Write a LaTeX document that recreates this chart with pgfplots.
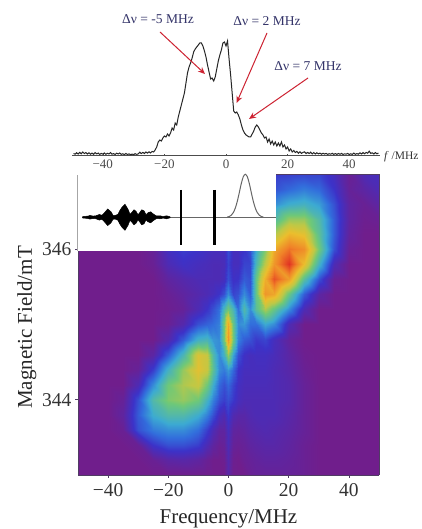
\documentclass[border=0pt]{standalone}
\usepackage{pgfplots}
\usepackage{fontspec}
\usetikzlibrary{arrows.meta}
\setmainfont{Liberation Serif}
\pgfplotsset{compat=1.18}
\definecolor{navytxt}{RGB}{52,52,105}
\definecolor{arrowred}{RGB}{205,35,50}
\definecolor{frameline}{RGB}{80,60,100}
\begin{document}
\begin{tikzpicture}
\useasboundingbox (0pt,0pt) rectangle (422pt,529pt);
\fill[white] (0pt,0pt) rectangle (422pt,529pt);
% heat map
\begin{axis}[
  at={(78pt,54pt)},anchor=south west,scale only axis,width=301pt,height=301pt,
  view={0}{90},xmin=-50,xmax=50,ymin=343,ymax=347,
  xtick={-40,-20,0,20,40},xticklabels={−40,−20,0,20,40},
  ytick={344,346},yticklabels={344,346},
  tick label style={font=\fontsize{19.5}{20}\selectfont,text=black!80},
  xticklabel style={yshift=-2pt},
  axis line style={frameline,line width=0.6pt},
  tick style={frameline,line width=0.6pt},
  major tick length=3pt,tick align=outside,
  xtick pos=bottom,ytick pos=left,
  xlabel={Frequency/MHz},ylabel={Magnetic Field/mT},
  label style={font=\fontsize{21}{22}\selectfont,text=black!85},
  xlabel style={at={(axis description cs:0.5,0)},anchor=base,yshift=-48.5pt},
  ylabel style={at={(axis description cs:0,0.49)},anchor=base,rotate=0,yshift=46pt},
  colormap={hm}{
    rgb255(0pt)=(112,30,140); rgb255(15pt)=(60,50,200); rgb255(25pt)=(50,110,220);
    rgb255(35pt)=(60,170,210); rgb255(50pt)=(110,200,120); rgb255(60pt)=(190,200,70);
    rgb255(70pt)=(235,190,45); rgb255(85pt)=(240,130,40); rgb255(100pt)=(225,50,35)},
  point meta min=0,point meta max=1,
]
\addplot3[surf,shader=interp,mesh/cols=28,point meta=z] coordinates {
(-50,343.0,0)(-45,343.0,0)(-40,343.0,0)(-35,343.0,0)(-30,343.0,0)(-25,343.0,0)(-20,343.0,0)(-15,343.0,0)(-10,343.0,0)(-7,343.0,0)(-5,343.0,0)(-3,343.0,0)(-1.5,343.0,0)(0,343.0,.07)(1.5,343.0,0)(3,343.0,0)(5,343.0,0)(7,343.0,.02)(9,343.0,.03)(12,343.0,.03)(15,343.0,.03)(20,343.0,.03)(25,343.0,.02)(30,343.0,0)(35,343.0,0)(40,343.0,0)(45,343.0,0)(50,343.0,0)
(-50,343.2,0)(-45,343.2,0)(-40,343.2,0)(-35,343.2,0)(-30,343.2,0)(-25,343.2,.02)(-20,343.2,.06)(-15,343.2,.07)(-10,343.2,.05)(-7,343.2,.02)(-5,343.2,0)(-3,343.2,0)(-1.5,343.2,.01)(0,343.2,.08)(1.5,343.2,.01)(3,343.2,0)(5,343.2,.02)(7,343.2,.03)(9,343.2,.04)(12,343.2,.05)(15,343.2,.05)(20,343.2,.04)(25,343.2,.02)(30,343.2,0)(35,343.2,0)(40,343.2,0)(45,343.2,0)(50,343.2,0)
(-50,343.4,0)(-45,343.4,0)(-40,343.4,0)(-35,343.4,0)(-30,343.4,.02)(-25,343.4,.15)(-20,343.4,.2)(-15,343.4,.2)(-10,343.4,.17)(-7,343.4,.1)(-5,343.4,.05)(-3,343.4,.02)(-1.5,343.4,.03)(0,343.4,.1)(1.5,343.4,.03)(3,343.4,.02)(5,343.4,.03)(7,343.4,.05)(9,343.4,.06)(12,343.4,.07)(15,343.4,.07)(20,343.4,.05)(25,343.4,.02)(30,343.4,0)(35,343.4,0)(40,343.4,0)(45,343.4,0)(50,343.4,0)
(-50,343.6,0)(-45,343.6,0)(-40,343.6,0)(-35,343.6,.02)(-30,343.6,.2)(-25,343.6,.27)(-20,343.6,.3)(-15,343.6,.3)(-10,343.6,.25)(-7,343.6,.17)(-5,343.6,.1)(-3,343.6,.05)(-1.5,343.6,.05)(0,343.6,.12)(1.5,343.6,.05)(3,343.6,.04)(5,343.6,.05)(7,343.6,.07)(9,343.6,.08)(12,343.6,.09)(15,343.6,.08)(20,343.6,.06)(25,343.6,.03)(30,343.6,0)(35,343.6,0)(40,343.6,0)(45,343.6,0)(50,343.6,0)
(-50,343.8,0)(-45,343.8,0)(-40,343.8,0)(-35,343.8,.05)(-30,343.8,.22)(-25,343.8,.36)(-20,343.8,.42)(-15,343.8,.42)(-10,343.8,.36)(-7,343.8,.28)(-5,343.8,.2)(-3,343.8,.12)(-1.5,343.8,.09)(0,343.8,.16)(1.5,343.8,.09)(3,343.8,.07)(5,343.8,.07)(7,343.8,.09)(9,343.8,.1)(12,343.8,.1)(15,343.8,.1)(20,343.8,.07)(25,343.8,.03)(30,343.8,0)(35,343.8,0)(40,343.8,0)(45,343.8,0)(50,343.8,0)
(-50,344.0,0)(-45,344.0,0)(-40,344.0,0)(-35,344.0,.03)(-30,344.0,.2)(-25,344.0,.42)(-20,344.0,.52)(-15,344.0,.55)(-10,344.0,.5)(-7,344.0,.38)(-5,344.0,.28)(-3,344.0,.2)(-1.5,344.0,.17)(0,344.0,.2)(1.5,344.0,.16)(3,344.0,.12)(5,344.0,.1)(7,344.0,.1)(9,344.0,.1)(12,344.0,.1)(15,344.0,.1)(20,344.0,.08)(25,344.0,.03)(30,344.0,0)(35,344.0,0)(40,344.0,0)(45,344.0,0)(50,344.0,0)
(-50,344.2,0)(-45,344.2,0)(-40,344.2,0)(-35,344.2,0)(-30,344.2,.1)(-25,344.2,.3)(-20,344.2,.5)(-15,344.2,.58)(-10,344.2,.62)(-7,344.2,.5)(-5,344.2,.36)(-3,344.2,.24)(-1.5,344.2,.2)(0,344.2,.24)(1.5,344.2,.18)(3,344.2,.13)(5,344.2,.11)(7,344.2,.11)(9,344.2,.11)(12,344.2,.11)(15,344.2,.1)(20,344.2,.08)(25,344.2,.03)(30,344.2,0)(35,344.2,0)(40,344.2,0)(45,344.2,0)(50,344.2,0)
(-50,344.4,0)(-45,344.4,0)(-40,344.4,0)(-35,344.4,0)(-30,344.4,.03)(-25,344.4,.17)(-20,344.4,.38)(-15,344.4,.55)(-10,344.4,.68)(-7,344.4,.62)(-5,344.4,.45)(-3,344.4,.3)(-1.5,344.4,.27)(0,344.4,.32)(1.5,344.4,.24)(3,344.4,.15)(5,344.4,.12)(7,344.4,.12)(9,344.4,.12)(12,344.4,.12)(15,344.4,.1)(20,344.4,.07)(25,344.4,.02)(30,344.4,0)(35,344.4,0)(40,344.4,0)(45,344.4,0)(50,344.4,0)
(-50,344.6,0)(-45,344.6,0)(-40,344.6,0)(-35,344.6,0)(-30,344.6,0)(-25,344.6,.06)(-20,344.6,.22)(-15,344.6,.4)(-10,344.6,.66)(-7,344.6,.62)(-5,344.6,.42)(-3,344.6,.3)(-1.5,344.6,.38)(0,344.6,.55)(1.5,344.6,.34)(3,344.6,.2)(5,344.6,.14)(7,344.6,.12)(9,344.6,.13)(12,344.6,.13)(15,344.6,.11)(20,344.6,.06)(25,344.6,.01)(30,344.6,0)(35,344.6,0)(40,344.6,0)(45,344.6,0)(50,344.6,0)
(-50,344.8,0)(-45,344.8,0)(-40,344.8,0)(-35,344.8,0)(-30,344.8,0)(-25,344.8,0)(-20,344.8,.08)(-15,344.8,.22)(-10,344.8,.38)(-7,344.8,.4)(-5,344.8,.32)(-3,344.8,.3)(-1.5,344.8,.5)(0,344.8,.8)(1.5,344.8,.5)(3,344.8,.28)(5,344.8,.22)(7,344.8,.2)(9,344.8,.16)(12,344.8,.18)(15,344.8,.12)(20,344.8,.04)(25,344.8,0)(30,344.8,0)(35,344.8,0)(40,344.8,0)(45,344.8,0)(50,344.8,0)
(-50,345.0,0)(-45,345.0,0)(-40,345.0,0)(-35,345.0,0)(-30,345.0,0)(-25,345.0,0)(-20,345.0,.02)(-15,345.0,.08)(-10,345.0,.2)(-7,345.0,.23)(-5,345.0,.25)(-3,345.0,.28)(-1.5,345.0,.5)(0,345.0,.76)(1.5,345.0,.48)(3,345.0,.3)(5,345.0,.32)(7,345.0,.25)(9,345.0,.25)(12,345.0,.35)(15,345.0,.3)(20,345.0,.1)(25,345.0,0)(30,345.0,0)(35,345.0,0)(40,345.0,0)(45,345.0,0)(50,345.0,0)
(-50,345.2,0)(-45,345.2,0)(-40,345.2,0)(-35,345.2,0)(-30,345.2,0)(-25,345.2,0)(-20,345.2,.01)(-15,345.2,.03)(-10,345.2,.1)(-7,345.2,.15)(-5,345.2,.2)(-3,345.2,.25)(-1.5,345.2,.4)(0,345.2,.5)(1.5,345.2,.4)(3,345.2,.25)(5,345.2,.42)(7,345.2,.3)(9,345.2,.45)(12,345.2,.58)(15,345.2,.48)(20,345.2,.3)(25,345.2,.1)(30,345.2,0)(35,345.2,0)(40,345.2,0)(45,345.2,0)(50,345.2,0)
(-50,345.4,0)(-45,345.4,0)(-40,345.4,0)(-35,345.4,0)(-30,345.4,0)(-25,345.4,0)(-20,345.4,.02)(-15,345.4,.05)(-10,345.4,.08)(-7,345.4,.1)(-5,345.4,.12)(-3,345.4,.15)(-1.5,345.4,.2)(0,345.4,.3)(1.5,345.4,.18)(3,345.4,.2)(5,345.4,.3)(7,345.4,.22)(9,345.4,.48)(12,345.4,.8)(15,345.4,.76)(20,345.4,.48)(25,345.4,.22)(30,345.4,.06)(35,345.4,0)(40,345.4,0)(45,345.4,0)(50,345.4,0)
(-50,345.6,0)(-45,345.6,0)(-40,345.6,0)(-35,345.6,0)(-30,345.6,0)(-25,345.6,0)(-20,345.6,.05)(-15,345.6,.08)(-10,345.6,.1)(-7,345.6,.1)(-5,345.6,.1)(-3,345.6,.1)(-1.5,345.6,.12)(0,345.6,.2)(1.5,345.6,.14)(3,345.6,.15)(5,345.6,.22)(7,345.6,.2)(9,345.6,.48)(12,345.6,.74)(15,345.6,.94)(20,345.6,.78)(25,345.6,.44)(30,345.6,.2)(35,345.6,.02)(40,345.6,0)(45,345.6,0)(50,345.6,0)
(-50,345.8,0)(-45,345.8,0)(-40,345.8,0)(-35,345.8,0)(-30,345.8,0)(-25,345.8,.02)(-20,345.8,.1)(-15,345.8,.14)(-10,345.8,.12)(-7,345.8,.11)(-5,345.8,.1)(-3,345.8,.1)(-1.5,345.8,.11)(0,345.8,.18)(1.5,345.8,.12)(3,345.8,.12)(5,345.8,.18)(7,345.8,.18)(9,345.8,.4)(12,345.8,.6)(15,345.8,.8)(20,345.8,1)(25,345.8,.7)(30,345.8,.38)(35,345.8,.1)(40,345.8,0)(45,345.8,0)(50,345.8,0)
(-50,346.0,0)(-45,346.0,0)(-40,346.0,0)(-35,346.0,0)(-30,346.0,0)(-25,346.0,.03)(-20,346.0,.13)(-15,346.0,.17)(-10,346.0,.15)(-7,346.0,.13)(-5,346.0,.12)(-3,346.0,.12)(-1.5,346.0,.12)(0,346.0,.2)(1.5,346.0,.12)(3,346.0,.12)(5,346.0,.15)(7,346.0,.2)(9,346.0,.35)(12,346.0,.52)(15,346.0,.75)(20,346.0,.88)(25,346.0,.82)(30,346.0,.5)(35,346.0,.2)(40,346.0,.02)(45,346.0,0)(50,346.0,0)
(-50,346.2,0)(-45,346.2,0)(-40,346.2,0)(-35,346.2,0)(-30,346.2,0)(-25,346.2,.03)(-20,346.2,.13)(-15,346.2,.15)(-10,346.2,.15)(-7,346.2,.13)(-5,346.2,.12)(-3,346.2,.12)(-1.5,346.2,.12)(0,346.2,.18)(1.5,346.2,.12)(3,346.2,.14)(5,346.2,.18)(7,346.2,.25)(9,346.2,.32)(12,346.2,.45)(15,346.2,.58)(20,346.2,.72)(25,346.2,.68)(30,346.2,.45)(35,346.2,.22)(40,346.2,.04)(45,346.2,0)(50,346.2,0)
(-50,346.4,0)(-45,346.4,0)(-40,346.4,0)(-35,346.4,0)(-30,346.4,0)(-25,346.4,.03)(-20,346.4,.1)(-15,346.4,.12)(-10,346.4,.12)(-7,346.4,.12)(-5,346.4,.12)(-3,346.4,.12)(-1.5,346.4,.12)(0,346.4,.15)(1.5,346.4,.12)(3,346.4,.14)(5,346.4,.18)(7,346.4,.22)(9,346.4,.28)(12,346.4,.35)(15,346.4,.42)(20,346.4,.55)(25,346.4,.55)(30,346.4,.42)(35,346.4,.22)(40,346.4,.05)(45,346.4,.01)(50,346.4,.02)
(-50,346.6,0)(-45,346.6,0)(-40,346.6,0)(-35,346.6,0)(-30,346.6,0)(-25,346.6,.02)(-20,346.6,.08)(-15,346.6,.1)(-10,346.6,.1)(-7,346.6,.1)(-5,346.6,.1)(-3,346.6,.1)(-1.5,346.6,.1)(0,346.6,.12)(1.5,346.6,.1)(3,346.6,.12)(5,346.6,.15)(7,346.6,.18)(9,346.6,.22)(12,346.6,.27)(15,346.6,.3)(20,346.6,.36)(25,346.6,.38)(30,346.6,.33)(35,346.6,.2)(40,346.6,.05)(45,346.6,.02)(50,346.6,.06)
(-50,346.8,0)(-45,346.8,0)(-40,346.8,0)(-35,346.8,0)(-30,346.8,0)(-25,346.8,.02)(-20,346.8,.06)(-15,346.8,.08)(-10,346.8,.08)(-7,346.8,.08)(-5,346.8,.08)(-3,346.8,.08)(-1.5,346.8,.08)(0,346.8,.1)(1.5,346.8,.08)(3,346.8,.1)(5,346.8,.12)(7,346.8,.14)(9,346.8,.17)(12,346.8,.19)(15,346.8,.2)(20,346.8,.24)(25,346.8,.27)(30,346.8,.24)(35,346.8,.15)(40,346.8,.03)(45,346.8,.06)(50,346.8,.1)
(-50,347.0,0)(-45,347.0,0)(-40,347.0,0)(-35,347.0,0)(-30,347.0,0)(-25,347.0,.01)(-20,347.0,.05)(-15,347.0,.06)(-10,347.0,.06)(-7,347.0,.06)(-5,347.0,.06)(-3,347.0,.06)(-1.5,347.0,.06)(0,347.0,.08)(1.5,347.0,.06)(3,347.0,.08)(5,347.0,.1)(7,347.0,.12)(9,347.0,.14)(12,347.0,.15)(15,347.0,.16)(20,347.0,.17)(25,347.0,.18)(30,347.0,.18)(35,347.0,.12)(40,347.0,.02)(45,347.0,.1)(50,347.0,.12)
};
\end{axis}
% inset covering the top left of the map
\fill[white] (78pt,278pt) rectangle (276pt,356pt);
\draw[black!35,line width=0.6pt] (77.5pt,278pt) -- (77.5pt,354pt);
\begin{axis}[
  at={(78pt,278pt)},anchor=south west,scale only axis,width=198pt,height=77pt,
  xmin=0,xmax=198,ymin=-33.7,ymax=43.3,hide axis,clip=false,
]
\addplot[black!60,line width=1pt] coordinates {(4,0)(198,0)};
\addplot[black,fill=black,line width=0.5pt] coordinates {
(4.7,0.7)(8,1)(10,1.2)(12,1.8)(15,1.2)(18,1.5)(21.3,2.8)(24,2)(26,4)(29.7,8.3)(33,5.5)(35,2)(37,1.7)(40,3)(42,7)(44,10)(47,13)(50,8)(52,3)(54,5)(56,7.5)(58,6)(60,2.5)(62,5)(63.7,7.5)(66,6.5)(68,2.5)(70,4.5)(72.7,5.5)(75,3.5)(78,1.5)(80,1.3)(82,1.5)(85,.8)(88.7,1.5)(92,.5)
(92,-.5)(88.7,-1.5)(85,-.8)(82,-1.5)(80,-1.3)(78,-1.5)(75,-3.5)(72.7,-5.5)(70,-4.5)(68,-2.5)(66,-6.5)(63.7,-7.5)(62,-5)(60,-2.5)(58,-6)(56,-7.5)(54,-5)(52,-3)(50,-8)(47,-13)(44,-10)(42,-7)(40,-3)(37,-1.7)(35,-2)(33,-5.5)(29.7,-8.3)(26,-4)(24,-2)(21.3,-2.8)(18,-1.5)(15,-1.2)(12,-1.8)(10,-1.2)(8,-1)(4.7,-.7)
} -- cycle;
\addplot[black,line width=2pt] coordinates {(103,27.3)(103,-27.7)};
\addplot[black,line width=3pt] coordinates {(136,27.3)(136,-27.7)};
\addplot[black!60,line width=1pt,smooth] coordinates {
(149.3,.3)(151.3,.8)(153.3,2.1)(155.3,4.7)(157.3,9.2)(159.3,16)(161.3,24.7)(163.3,33.8)(165.3,40.6)(167.3,43)(169.3,40.6)(171.3,33.8)(173.3,24.7)(175.3,16)(177.3,9.2)(179.3,4.7)(181.3,2.1)(183.3,.8)(185.3,.3)};
\end{axis}
% spectrum
\begin{axis}[
  at={(72pt,374pt)},anchor=south west,scale only axis,width=308pt,height=125pt,
  xmin=-50,xmax=50,ymin=0,ymax=125,clip=false,
  axis x line=bottom,axis y line=none,
  xtick={-40,-20,0,20,40},xticklabels={−40,−20,0,20,40},
  tick label style={font=\fontsize{13}{14}\selectfont,text=black!70},
  x axis line style={-,black!70,line width=0.5pt},
  tick style={black!70,line width=0.4pt},major tick length=2pt,
]
\addplot[black!85,line width=1pt] coordinates {
(-49.5,1.5)(-49,.8)(-48.5,2.2)(-48,.9)(-47.5,2.6)(-47,1.2)(-46.5,3)(-46,1.4)(-45.5,2.4)(-45,1)(-44.5,2.2)(-44,.8)(-43.5,1.9)(-43,.7)(-42.5,2.4)(-42,1.1)(-41.5,1.9)(-41,.6)(-40.5,1.6)(-40,.9)(-39.5,2)(-39,.7)(-38.5,1.7)(-38,1)(-37.5,2.4)(-37,.8)(-36.5,1.4)(-36,.5)(-35.5,1.8)(-35,1)(-34.5,2)(-34,.6)(-33.5,1.2)(-33,.4)(-32.5,1.5)(-32,.5)(-31.5,1.1)(-31,.3)(-30.5,.9)(-30,.4)(-29.5,1.3)(-29,.6)(-28.5,1.1)(-28,2.8)(-27.5,1.4)(-27,2.6)(-26.5,1.5)(-26,3)(-25.5,1.9)(-25,3.2)(-24.5,2)(-24,3.6)(-23.5,3)(-23,5)(-22.5,8)(-22,13)(-21.5,15)(-21,14)(-20.5,17)(-20,19)(-19.5,18)(-19,21)(-18.5,19)(-18,22)(-17.5,27)(-17,25)(-16.5,32)(-16,30)(-15.5,38)(-15,44)(-14.5,50)(-14,56)(-13.5,62)(-13,72)(-12.5,82)(-12,88)(-11.5,92)(-11,97)(-10.5,103)(-10,106)(-9.5,108)(-9,110)(-8.5,112)(-8,112)(-7.5,109)(-7,104)(-6.5,98)(-6,90)(-5.5,83)(-5,76)(-4.5,77)(-4,74)(-3.5,78)(-3,86)(-2.5,94)(-2,100)(-1.5,105)(-1,112)(-.5,113)(0,109)(.5,114)(1,96)(1.5,80)(2,62)(2.5,44)(3,42)(3.5,43)(4,40)(4.5,36)(5,30)(5.5,25)(6,22)(6.5,20)(7,19)(7.5,18)(8,18)(8.5,21)(9,24)(9.5,28)(10,30)(10.5,28)(11,25)(11.5,22)(12,20)(12.5,17)(13,18)(13.5,13)(14,16)(14.5,11)(15,14)(15.5,10)(16,13)(16.5,9)(17,12)(17.5,9)(18,13)(18.5,8)(19,10)(19.5,6)(20,8)(20.5,4)(21,6)(21.5,3)(22,4.5)(22.5,2.5)(23,3.6)(23.5,1.8)(24,3.2)(24.5,1.6)(25,2.6)(25.5,3.2)(26,1.4)(26.5,2.6)(27,1.4)(27.5,2.8)(28,1.1)(28.5,2.4)(29,1)(29.5,2.2)(30,1.1)(30.5,1.9)(31,.8)(31.5,1.7)(32,.9)(32.5,1.6)(33,.6)(33.5,1.3)(34,.8)(34.5,1.7)(35,.6)(35.5,1.4)(36,.6)(36.5,1.5)(37,.7)(37.5,1.6)(38,.5)(38.5,1.2)(39,.8)(39.5,1.6)(40,.5)(40.5,1.2)(41,.6)(41.5,1.9)(42,.7)(42.5,1.4)(43,.8)(43.5,2.2)(44,1)(44.5,2.4)(45,1.2)(45.5,2.6)(46,1.8)(46.5,3.8)(47,1.6)(47.5,2.2)(48,1)(48.5,2.4)(49,1.2)(49.5,2)
};
\end{axis}
\node[anchor=west,inner sep=0pt,font=\fontsize{11.5}{12}\selectfont,text=black!80] at (384pt,372pt) {\textit{f} /MHz};
\node[font=\fontsize{13.5}{14}\selectfont,text=navytxt] at (158pt,510pt) {Δν = -5 MHz};
\node[font=\fontsize{13.5}{14}\selectfont,text=navytxt] at (267pt,508pt) {Δν = 2 MHz};
\node[font=\fontsize{13.5}{14}\selectfont,text=navytxt] at (308pt,463pt) {Δν = 7 MHz};
\draw[arrowred,line width=1pt,-{Stealth[length=7pt,width=6pt]}] (160pt,497pt) -- (205pt,455pt);
\draw[arrowred,line width=1pt,-{Stealth[length=7pt,width=6pt]}] (267pt,496pt) -- (236.5pt,426pt);
\draw[arrowred,line width=1pt,-{Stealth[length=7pt,width=6pt]}] (308pt,451pt) -- (249pt,410pt);
\end{tikzpicture}
\end{document}
